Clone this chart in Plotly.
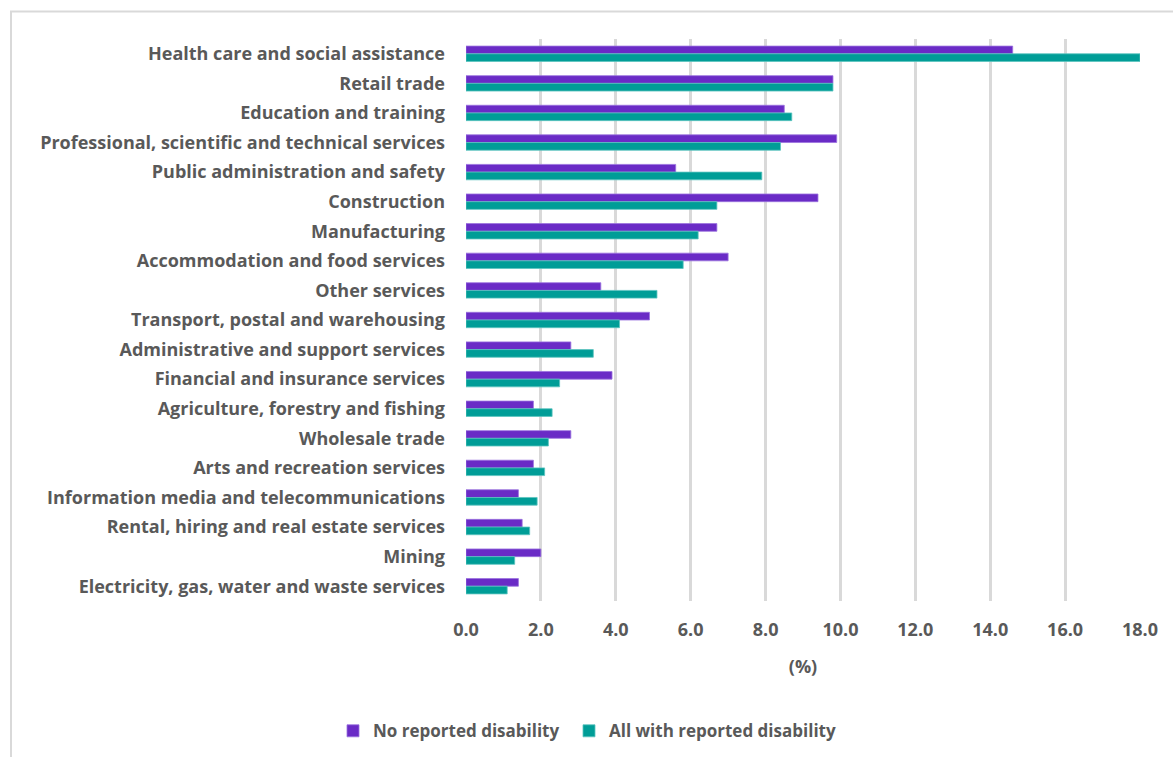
import plotly.graph_objects as go

# Industry of employment, share of employed persons (%)
industries = [
    "Health care and social assistance",
    "Retail trade",
    "Education and training",
    "Professional, scientific and technical services",
    "Public administration and safety",
    "Construction",
    "Manufacturing",
    "Accommodation and food services",
    "Other services",
    "Transport, postal and warehousing",
    "Administrative and support services",
    "Financial and insurance services",
    "Agriculture, forestry and fishing",
    "Wholesale trade",
    "Arts and recreation services",
    "Information media and telecommunications",
    "Rental, hiring and real estate services",
    "Mining",
    "Electricity, gas, water and waste services",
]

no_disability = [14.6, 9.8, 8.5, 9.9, 5.6, 9.4, 6.7, 7.0, 3.6, 4.9,
                 2.8, 3.9, 1.8, 2.8, 1.8, 1.4, 1.5, 2.0, 1.4]
with_disability = [18.0, 9.8, 8.7, 8.4, 7.9, 6.7, 6.2, 5.8, 5.1, 4.1,
                   3.4, 2.5, 2.3, 2.2, 2.1, 1.9, 1.7, 1.3, 1.1]

x_ticks = [0, 2, 4, 6, 8, 10, 12, 14, 16, 18]

PURPLE = "#6A2BC6"
TEAL = "#009D97"
TEXT = "#595959"
FONT = "Open Sans"

fig = go.Figure()
fig.add_trace(go.Bar(
    y=industries, x=no_disability, orientation="h",
    name="No reported disability", legend="legend",
    marker=dict(color=PURPLE, line=dict(color="#9B72DE", width=0.8)),
))
fig.add_trace(go.Bar(
    y=industries, x=with_disability, orientation="h",
    name="All with reported disability", legend="legend2",
    marker=dict(color=TEAL, line=dict(color="#5CC4BF", width=0.8)),
))

legend_style = dict(
    orientation="h", xref="container", yref="container",
    y=0.034, xanchor="left", yanchor="middle",
    font=dict(family=FONT, size=17, color=TEXT, weight="bold"),
    itemwidth=30, bgcolor="rgba(0,0,0,0)",
)

fig.update_layout(
    width=1173, height=757,
    margin=dict(l=466, r=33, t=39, b=156),
    paper_bgcolor="white", plot_bgcolor="white",
    barmode="group", bargap=0.48, bargroupgap=0,
    font=dict(family=FONT, size=17, color=TEXT),
    showlegend=True,
    legend=dict(x=333 / 1173, **legend_style),
    legend2=dict(x=569 / 1173, **legend_style),
    xaxis=dict(
        range=[0, 18], tickvals=x_ticks, tickformat=".1f",
        showgrid=True, gridcolor="#D9D9D9", gridwidth=3,
        zeroline=False, showline=False, ticks="",
        tickfont=dict(family=FONT, size=18, color=TEXT, weight="bold"),
        ticklabelstandoff=16,
        title=dict(text="(%)", standoff=20,
                   font=dict(family=FONT, size=18, color=TEXT, weight="bold")),
    ),
    yaxis=dict(
        autorange="reversed", showgrid=False, zeroline=False,
        showline=False, ticks="",
        tickfont=dict(family=FONT, size=18, color=TEXT, weight="bold"),
        ticklabelstandoff=20,
    ),
    shapes=[dict(
        type="rect", xref="paper", yref="paper",
        x0=(11 - 466) / 674, x1=(1185 - 466) / 674,
        y0=(602 - 770) / 562, y1=(602 - 12.5) / 562,
        line=dict(color="#D9D9D9", width=2), fillcolor="rgba(0,0,0,0)",
        layer="below",
    )],
)

fig.write_html("out.html")
